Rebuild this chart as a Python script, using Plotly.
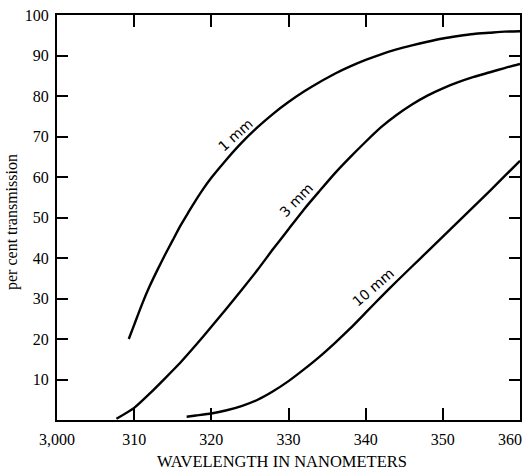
import plotly.graph_objects as go

# ---- data ----
x_1mm = [309.3, 310, 311, 312, 313, 314, 315, 316, 317, 318, 319, 320, 322, 324, 326, 328, 330, 332, 334,
         336, 338, 340, 342, 344, 346, 348, 350, 352, 354, 356, 358, 360]
y_1mm = [20.0, 23.5, 28.5, 33.0, 37.0, 40.8, 44.4, 48.0, 51.2, 54.3, 57.2, 59.8, 64.4, 68.6, 72.3, 75.6, 78.5,
         81.1, 83.4, 85.5, 87.3, 88.9, 90.3, 91.5, 92.5, 93.4, 94.2, 94.8, 95.3, 95.6, 95.9, 96.0]

x_3mm = [307.7, 310, 312, 314, 316, 318, 320, 322, 324, 326, 328, 330, 332, 334, 336, 338, 340, 342, 344,
         346, 348, 350, 352, 354, 356, 358, 360]
y_3mm = [0.3, 3.0, 6.5, 10.3, 14.2, 18.5, 23.0, 27.6, 32.3, 37.1, 42.2, 47.1, 52.0, 56.5, 60.9, 64.9, 68.7,
         72.3, 75.3, 77.9, 80.1, 81.9, 83.4, 84.7, 85.8, 86.9, 87.9]

x_10mm = [316.8, 318, 320, 322, 324, 326, 328, 330, 332, 334, 336, 338, 340, 342, 344, 346, 348, 350, 352,
          354, 356, 358, 360]
y_10mm = [0.8, 1.1, 1.6, 2.4, 3.5, 5.0, 7.1, 9.6, 12.5, 15.6, 19.0, 22.6, 26.5, 30.4, 34.2, 37.9, 41.6,
          45.3, 49.0, 52.7, 56.4, 60.2, 64.0]

curve_labels = ["1 mm", "3 mm", "10 mm"]
label_x = [323.1, 331.0, 341.0]
label_y = [70.4, 54.3, 32.9]
label_angle = [-42, -46, -41]

x_tickvals = [300, 310, 320, 330, 340, 350, 360]
x_ticktext = ["3,000", "310", "320", "330", "340", "350", "360"]
y_tickvals = [10, 20, 30, 40, 50, 60, 70, 80, 90, 100]
y_ticktext = ["10", "20", "30", "40", "50", "60", "70", "80", "90", "100"]

x_title = "WAVELENGTH IN NANOMETERS"
y_title = "per cent transmission"

serif = "Liberation Serif"
W, H = 526, 472
L, R, T, B = 57, 6, 15, 52
PW, PH = W - L - R, H - T - B

fig = go.Figure()
for xs, ys in [(x_1mm, y_1mm), (x_3mm, y_3mm), (x_10mm, y_10mm)]:
    fig.add_trace(go.Scatter(x=xs, y=ys, mode="lines",
                             line=dict(color="black", width=2.4, shape="spline", smoothing=0.6),
                             hoverinfo="skip", showlegend=False))

for t, lx, ly, a in zip(curve_labels, label_x, label_y, label_angle):
    fig.add_annotation(x=lx, y=ly, text=t, showarrow=False, textangle=a,
                       font=dict(family="DejaVu Sans", size=14, color="black"))

# last x tick label drawn separately so it stays inside the picture (as in the reference)
axis_ticktext = x_ticktext[:-1] + [""]
fig.add_annotation(x=x_tickvals[-1], y=0, yref="paper", text=x_ticktext[-1], showarrow=False,
                   xanchor="right", yanchor="top", xshift=4, yshift=-9,
                   font=dict(family=serif, size=16, color="black"))

fig.add_annotation(xref="paper", yref="paper", x=(282 - L) / PW, y=-(462 - (H - B)) / PH,
                   text=x_title, showarrow=False, yanchor="middle",
                   font=dict(family=serif, size=16.5, color="black"))
fig.add_annotation(xref="paper", yref="paper", x=-(L - 12) / PW, y=(H - B - 222) / PH,
                   text=y_title, showarrow=False, textangle=-90, xanchor="center",
                   font=dict(family=serif, size=16, color="black"))

axis_common = dict(showgrid=False, zeroline=False, showline=True, linecolor="black",
                   linewidth=2, ticks="inside", tickcolor="black", tickwidth=1.5,
                   mirror="ticks", automargin=False, ticklabeloverflow="allow",
                   tickfont=dict(family=serif, size=16, color="black"))

fig.update_xaxes(range=[300, 360], tickvals=x_tickvals, ticktext=axis_ticktext,
                 ticklen=12, ticklabelstandoff=4, **axis_common)
fig.update_yaxes(range=[0, 100], tickvals=y_tickvals, ticktext=y_ticktext,
                 ticklen=11, ticklabelstandoff=3, **axis_common)

fig.update_layout(width=W, height=H, margin=dict(l=L, r=R, t=T, b=B, autoexpand=False),
                  paper_bgcolor="white", plot_bgcolor="white")

fig.write_html("out.html", config={"displayModeBar": False},
               post_script="document.body.style.margin='0';document.body.style.overflow='hidden';")
